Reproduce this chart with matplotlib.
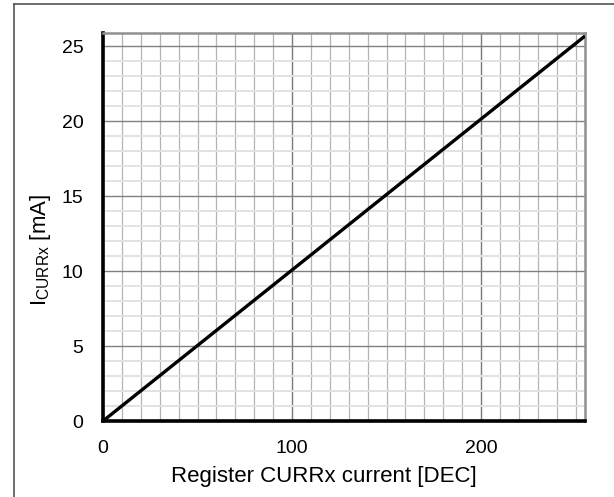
import matplotlib
matplotlib.use("Agg")
import matplotlib.pyplot as plt
from matplotlib.lines import Line2D
from matplotlib.ticker import MultipleLocator

plt.rcParams['font.family'] = ['Liberation Sans', 'DejaVu Sans']
plt.rcParams['mathtext.fontset'] = 'custom'
plt.rcParams['mathtext.rm'] = 'Liberation Sans'

# register value vs. output current (linear)
reg_dec = [0, 255]
i_curr_ma = [0, 25.7]

x_ticks = [0, 100, 200]
y_ticks = [0, 5, 10, 15, 20, 25]

fig = plt.figure(figsize=(6.14, 4.97), dpi=100)
ax = fig.add_axes([103/614, 1 - 421/497, 482/614, 388/497])

ax.plot(reg_dec, i_curr_ma, color='black', lw=2.4, solid_capstyle='butt', zorder=3)

ax.set_xlim(0, 255)
ax.set_ylim(0, 25.9)
ax.set_xticks(x_ticks)
ax.set_yticks(y_ticks)
ax.xaxis.set_minor_locator(MultipleLocator(10))
ax.yaxis.set_minor_locator(MultipleLocator(1))

ax.grid(which='minor', axis='y', color='#e2e2e2', lw=1.4)
ax.grid(which='minor', axis='x', color='#b4b4b4', lw=0.9)
ax.grid(which='major', axis='y', color='#808080', lw=1.0)
ax.grid(which='major', axis='x', color='#7a7a7a', lw=1.0)
ax.set_axisbelow(True)

ax.tick_params(which='both', length=0, labelsize=14, pad=14)

for s in ['left', 'bottom']:
    ax.spines[s].set_color('black')
    ax.spines[s].set_linewidth(2.6)
for s in ['top', 'right']:
    ax.spines[s].set_color('#909090')
    ax.spines[s].set_linewidth(1.8)

ax.set_xlabel('Register CURRx current [DEC]', fontsize=16)
ax.xaxis.label.set_va('center')
ax.xaxis.set_label_coords(0.458, -0.142)
ax.set_ylabel(r'I$_{\mathrm{CURRx}}$ [mA]', fontsize=16)
ax.yaxis.label.set_va('center')
ax.yaxis.set_label_coords(-0.129, 0.44)

# outer frame (cut off at right and bottom)
fig.add_artist(Line2D([14/614, 1.0], [1 - 4/497, 1 - 4/497], color='#555555', lw=1.2))
fig.add_artist(Line2D([14/614, 14/614], [0.0, 1 - 4/497], color='#555555', lw=1.2))

fig.savefig('out.png', dpi=100)
